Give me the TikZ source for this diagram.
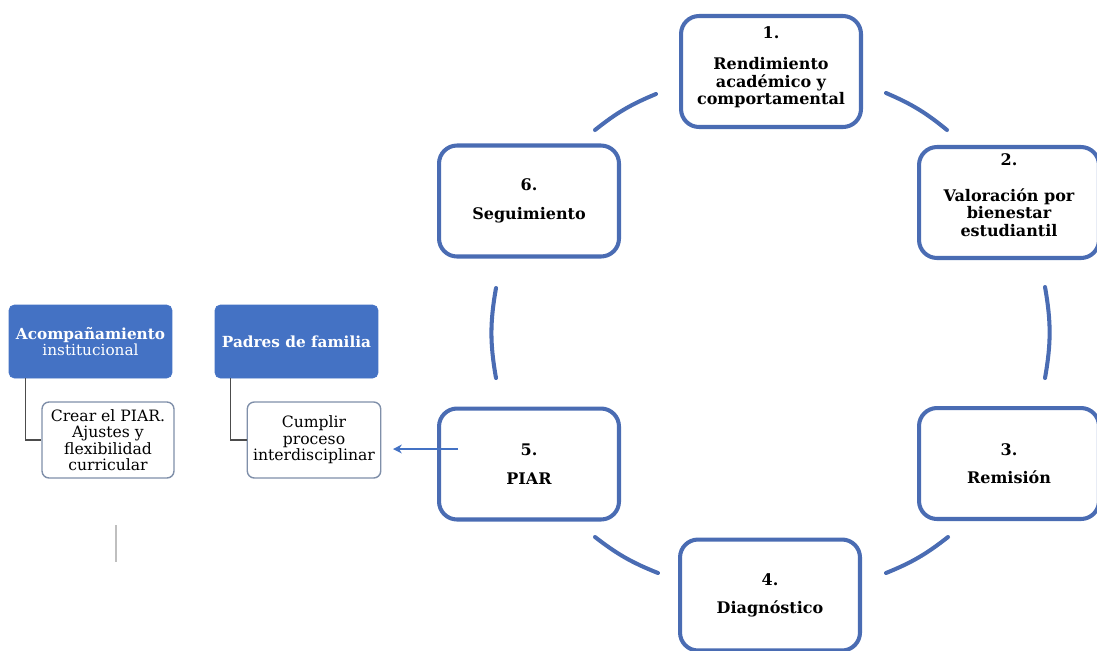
\documentclass[tikz,border=0pt]{standalone}
\usepackage{fontspec}
\setmainfont{DejaVu Serif}
\usepackage{tikz}
\usetikzlibrary{arrows.meta}

\definecolor{cycblue}{HTML}{4A6CB3}
\definecolor{headblue}{HTML}{4472C4}
\definecolor{subgray}{HTML}{7F8FA9}

\tikzset{
    stepbox/.style={draw=cycblue, line width=2.3pt, rounded corners=0.36cm, fill=white,
        minimum width=3.6cm, minimum height=2.22cm, inner ysep=0pt, align=center, text=black,
        font=\bfseries\fontsize{9.1}{9.8}\selectfont},
    ring/.style={draw=cycblue, line width=2.3pt, line cap=round},
    headbox/.style={fill=headblue, draw=headblue, rounded corners=3pt,
        minimum width=3.26cm, minimum height=1.46cm, text=white, align=center,
        font=\fontsize{8.7}{9.6}\selectfont},
    subbox/.style={draw=subgray, line width=0.8pt, fill=white, rounded corners=4pt,
        minimum width=2.64cm, minimum height=1.52cm, align=center,
        font=\fontsize{8.9}{9.4}\selectfont},
    link/.style={draw=black!70, line width=0.6pt},
}

\begin{document}
\begin{tikzpicture}[x=0.02cm, y=-0.02cm]
    \useasboundingbox (0,0) rectangle (1097,650);
    % ciclo
    \node[stepbox] (s1) at (771,71.5) {1.\\[8pt]Rendimiento\\académico y\\comportamental\\[-3pt]{}};
    \node[stepbox] (s2) at (1009,202.5) {2.\\[11pt]Valoración por\\bienestar\\estudiantil\\[-1pt]{}};
    \node[stepbox] (s3) at (1009,463.5) {3.\\[6pt]Remisión};
    \node[stepbox] (s4) at (770,595) {4.\\[6pt]Diagnóstico};
    \node[stepbox] (s5) at (529,464) {5.\\[7pt]PIAR};
    \node[stepbox] (s6) at (529,201) {6.\\[7pt]Seguimiento};
    % arcos entre pasos
    \coordinate (r61a) at (595,130); \coordinate (r61b) at (656,94);
    \coordinate (r12a) at (886,93);  \coordinate (r12b) at (947,130);
    \coordinate (r23a) at (1045,287); \coordinate (r23b) at (1045,378);
    \coordinate (r34a) at (948,537); \coordinate (r34b) at (886,573);
    \coordinate (r45a) at (658,573); \coordinate (r45b) at (595,537);
    \coordinate (r56a) at (496,378); \coordinate (r56b) at (496,288);
    \draw[ring] (r61a) to[bend left=8] (r61b);
    \draw[ring] (r12a) to[bend left=8] (r12b);
    \draw[ring] (r23a) to[bend left=10] (r23b);
    \draw[ring] (r34a) to[bend left=8] (r34b);
    \draw[ring] (r45a) to[bend left=8] (r45b);
    \draw[ring] (r56a) to[bend left=10] (r56b);
    % actores
    \node[headbox] (a1) at (90.5,341.5) {\textbf{Acompañamiento}\\institucional};
    \node[subbox] (a2) at (108,440) {Crear el PIAR.\\Ajustes y\\flexibilidad\\curricular};
    \node[headbox] (p1) at (296.5,341.5) {\textbf{Padres de familia}};
    \node[subbox] (p2) at (314,440) {Cumplir\\proceso\\interdisciplinar};
    \draw[link] ([xshift=0.34cm]a1.south west) |- (a2.west);
    \draw[link] ([xshift=0.32cm]p1.south west) |- (p2.west);
    \coordinate (piarout) at (393,449);
    \draw[headblue, line width=0.8pt, -{Stealth[length=5pt,width=5pt]}] ([shift={(21,-15)}]s5.west) -- (piarout);
    \draw[black!25, line width=0.6pt] (116,525) -- (116,562);
\end{tikzpicture}
\end{document}
